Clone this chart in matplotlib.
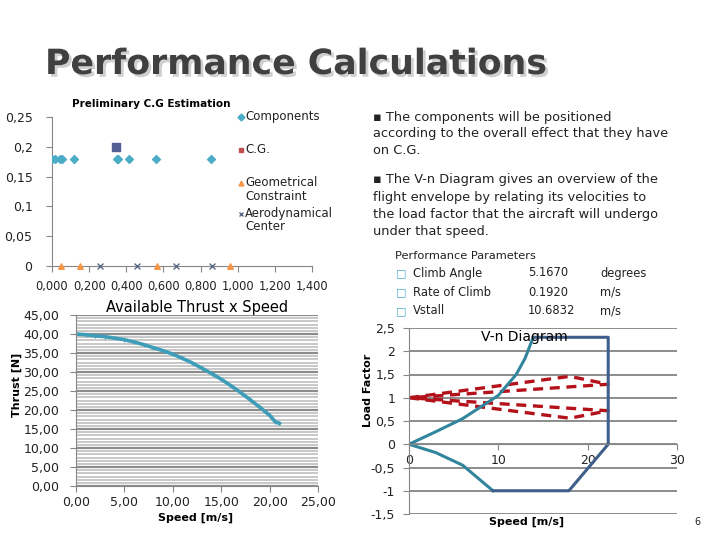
import numpy as np
import matplotlib.pyplot as plt
import matplotlib.patheffects as pe
from matplotlib.lines import Line2D
from matplotlib.ticker import MultipleLocator, FuncFormatter

# --- C.G. estimation data
comp_x = [0.0, 0.018, 0.045, 0.054, 0.12, 0.349, 0.353, 0.412, 0.56, 0.856]
comp_y = [0.18] * len(comp_x)
cg_x = [0.342]
cg_y = [0.2]
geo_x = [0.05, 0.149, 0.564, 0.961]
geo_y = [0.0] * len(geo_x)
aero_x = [0.26, 0.46, 0.666, 0.863]
aero_y = [0.0] * len(aero_x)

# --- available thrust
speed = [0, 1, 2, 3, 4, 5, 6, 7, 8, 9, 10, 11, 12, 13, 14, 15, 16, 17, 18, 19, 20, 20.6, 21.0]
thrust = [40.0, 39.8, 39.5, 39.3, 38.9, 38.5, 37.9, 37.2, 36.4, 35.6, 34.7, 33.6, 32.4,
          31.0, 29.6, 28.1, 26.4, 24.6, 22.7, 20.7, 18.6, 16.9, 16.5]

# --- V-n diagram
stall_pos_v = [0, 3, 6, 8, 10, 12, 13, 13.9]
stall_pos_n = [0, 0.27, 0.55, 0.8, 1.05, 1.5, 1.85, 2.3]
stall_neg_v = [0, 3, 6, 9.4]
stall_neg_n = [0, -0.18, -0.45, -1.0]
env_v = [13.9, 22.3, 22.3, 17.9, 9.4]
env_n = [2.3, 2.3, 0.0, -1.0, -1.0]
gust_up_v = [0, 18.0, 22.3, 0]
gust_up_n = [1.0, 1.46, 1.29, 1.0]
gust_lo_v = [0, 18.0, 22.3, 0]
gust_lo_n = [1.0, 0.56, 0.72, 1.0]

params = ["Climb Angle", "Rate of Climb", "Vstall"]
param_vals = ["5.1670", "0.1920", "10.6832"]
param_units = ["degrees", "m/s", "m/s"]

W, H = 720, 540
fig = plt.figure(figsize=(7.2, 5.4), dpi=100)
plt.rcParams['font.family'] = ['DejaVu Sans']


def fx(px):
    return px / W


def fy(py):
    return 1 - py / H


def comma(fmt):
    return FuncFormatter(lambda v, p: (fmt % v).replace('.', ','))


def trim(v, p):
    s = ('%.2f' % v).rstrip('0').rstrip('.')
    if s == '-0':
        s = '0'
    return s.replace('.', ',')


axis_gray = '#868686'

# title with shadow
fig.text(fx(45), fy(64), "Performance Calculations", fontsize=25,
         fontweight='bold', color='#404040', va='center', ha='left',
         path_effects=[pe.withSimplePatchShadow(offset=(2, -2), shadow_rgbFace='#b0b0b0', alpha=0.6)])

# ---------- chart 1
ax1 = fig.add_axes([fx(52), fy(266), fx(260), 149 / H])
ax1.scatter(comp_x, comp_y, marker='D', s=16, color='#4BACC6', zorder=3)
ax1.scatter(cg_x, cg_y, marker='s', s=22, color='#C0504D', zorder=3)
ax1.scatter(cg_x, cg_y, marker='s', s=26, color='#4F5F95', zorder=4)
ax1.scatter(geo_x, geo_y, marker='^', s=16, color='#F79646', zorder=3, clip_on=False)
ax1.scatter(aero_x, aero_y, marker='x', s=18, color='#5A6A86', linewidths=1, zorder=3, clip_on=False)
ax1.set_xlim(0, 1.4)
ax1.set_ylim(0, 0.25)
ax1.xaxis.set_major_locator(MultipleLocator(0.2))
ax1.yaxis.set_major_locator(MultipleLocator(0.05))
ax1.xaxis.set_major_formatter(comma('%.3f'))
ax1.yaxis.set_major_formatter(FuncFormatter(trim))
for s in ['top', 'right']:
    ax1.spines[s].set_visible(False)
for s in ['left', 'bottom']:
    ax1.spines[s].set_color(axis_gray)
ax1.tick_params(colors=axis_gray, labelcolor='#222222', labelsize=9, length=4, pad=10)
ax1.tick_params(axis='x', labelsize=8.3, pad=6)
ax1.text(0.38, 1.09, "Preliminary C.G Estimation", transform=ax1.transAxes,
         fontsize=7.5, fontweight='bold', ha='center', va='center')

# legend, Excel style: key next to the first line of each label
leg_items = [("Components", 'D', '#4BACC6', 117),
             ("C.G.", 's', '#C0504D', 150),
             ("Geometrical\nConstraint", '^', '#F79646', 183),
             ("Aerodynamical\nCenter", 'x', '#5A6A86', 214)]
for label, mk, col, py in leg_items:
    fig.add_artist(Line2D([fx(241)], [fy(py)], marker=mk, color=col, ms=3.5, mew=1,
                          ls='none', transform=fig.transFigure))
    fig.text(fx(245), fy(py - 7), label, fontsize=8.5, va='top', ha='left',
             linespacing=1.05, color='#222222')

# ---------- chart 2
ax2 = fig.add_axes([fx(76), fy(486), fx(242), 171 / H])
ax2.set_facecolor('white')
ax2.set_xlim(0, 25)
ax2.set_ylim(0, 45)
ax2.yaxis.set_minor_locator(MultipleLocator(5 / 6))
ax2.yaxis.set_major_locator(MultipleLocator(5))
ax2.xaxis.set_major_locator(MultipleLocator(5))
ax2.grid(which='minor', axis='y', color='#c4c4c4', lw=1.3)
ax2.grid(which='major', axis='y', color='#8c8c8c', lw=1.6)
ax2.set_axisbelow(True)
ax2.plot(speed, thrust, color='#3E9DB8', lw=2.6, marker='+', ms=3, mew=0.8)
ax2.xaxis.set_major_formatter(comma('%.2f'))
ax2.yaxis.set_major_formatter(comma('%.2f'))
for s in ['top', 'right']:
    ax2.spines[s].set_visible(False)
for s in ['left', 'bottom']:
    ax2.spines[s].set_color(axis_gray)
ax2.tick_params(which='minor', length=0)
ax2.tick_params(which='major', colors=axis_gray, labelcolor='#222222', labelsize=9, length=4, pad=8)
ax2.tick_params(axis='x', pad=3)
ax2.set_title("Available Thrust x Speed", fontsize=10.5, pad=2)
fig.text(fx(196), fy(518), "Speed [m/s]", fontsize=8, fontweight='bold', ha='center', va='center')
fig.text(fx(17), fy(385), "Thrust [N]", fontsize=8, fontweight='bold', ha='center', va='center', rotation=90)

# ---------- chart 3
ax3 = fig.add_axes([fx(409), fy(514), fx(268), 186 / H])
ax3.set_xlim(0, 30)
ax3.set_ylim(-1.5, 2.5)
ax3.yaxis.set_major_locator(MultipleLocator(0.5))
ax3.xaxis.set_major_locator(MultipleLocator(10))
ax3.grid(axis='y', color='#8c8c8c', lw=1.4)
ax3.set_axisbelow(True)
ax3.plot(gust_up_v, gust_up_n, color='#B4121B', lw=2.4, ls=(0, (3, 2)))
ax3.plot(gust_lo_v, gust_lo_n, color='#B4121B', lw=2.4, ls=(0, (3, 2)))
ax3.plot(stall_pos_v, stall_pos_n, color='#31859C', lw=2.2)
ax3.plot(stall_neg_v, stall_neg_n, color='#31859C', lw=2.2)
ax3.plot(env_v, env_n, color='#3F5F8A', lw=2.2)
ax3.spines['bottom'].set_position(('data', 0))
for s in ['top', 'right']:
    ax3.spines[s].set_visible(False)
for s in ['left', 'bottom']:
    ax3.spines[s].set_color(axis_gray)
ax3.yaxis.set_major_formatter(FuncFormatter(trim))
ax3.tick_params(colors=axis_gray, labelcolor='#222222', labelsize=9, length=4, pad=3)
ax3.tick_params(axis='y', pad=6)
ax3.text(0.43, 0.95, "V-n Diagram", transform=ax3.transAxes, fontsize=10, ha='center', va='center')
fig.text(fx(527), fy(522), "Speed [m/s]", fontsize=8, fontweight='bold', ha='center', va='center')
fig.text(fx(368), fy(390), "Load Factor", fontsize=8, fontweight='bold', ha='center', va='center', rotation=90)

# ---------- text on the right
bullet1 = ["\u25aa The components will be positioned",
           "according to the overall effect that they have",
           "on C.G."]
bullet2 = ["\u25aa The V-n Diagram gives an overview of the",
           "flight envelope by relating its velocities to",
           "the load factor that the aircraft will undergo",
           "under that speed."]
for i, line in enumerate(bullet1):
    fig.text(fx(373), fy(117 + i * 17), line, fontsize=9.3, va='center', color='#222222')
for i, line in enumerate(bullet2):
    fig.text(fx(373), fy(180 + i * 17), line, fontsize=9.3, va='center', color='#222222')

fig.text(fx(395), fy(256), "Performance Parameters", fontsize=8.2, va='center', color='#222222')
for i, (name, val, unit) in enumerate(zip(params, param_vals, param_units)):
    yy = fy(273 + i * 19)
    fig.text(fx(396), yy, "\u25a1", fontsize=8, va='center', color='#4BACC6')
    fig.text(fx(413), yy, name, fontsize=8.3, va='center', color='#222222')
    fig.text(fx(528), yy, val, fontsize=8.3, va='center', color='#222222')
    fig.text(fx(600), yy, unit, fontsize=8.3, va='center', color='#222222')

fig.text(fx(697), fy(522), "6", fontsize=7, va='center', ha='center', color='#222222')

fig.savefig("out.png", dpi=100)
